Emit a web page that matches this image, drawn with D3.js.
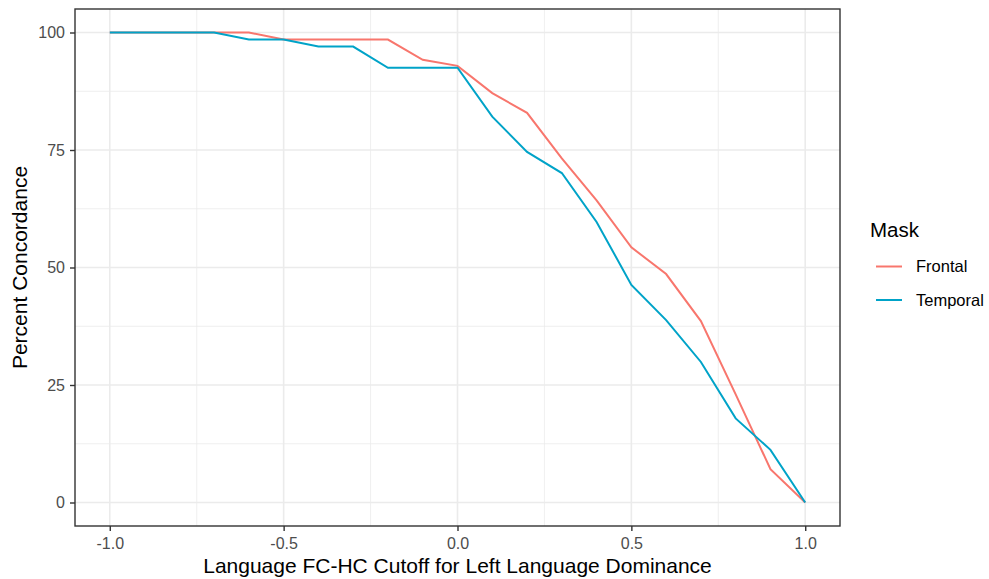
<!DOCTYPE html>
<html>
<head>
<meta charset="utf-8">
<script src="https://cdn.jsdelivr.net/npm/d3@7"></script>
<style>
  body { margin: 0; background: #fff; }
  text { font-family: "Liberation Sans", Arial, sans-serif; }
</style>
</head>
<body>
<div class="chart"></div>
<script>
// cutoff values on the x axis
const cutoffs = [-1.0, -0.9, -0.8, -0.7, -0.6, -0.5, -0.4, -0.3, -0.2, -0.1, 0.0,
  0.1, 0.2, 0.3, 0.4, 0.5, 0.6, 0.7, 0.8, 0.9, 1.0]

// percent concordance per mask
const frontal = [100, 100, 100, 100, 100, 98.5, 98.5, 98.5, 98.5, 94.2, 92.9,
  87.1, 82.9, 73.2, 64.3, 54.3, 48.6, 38.6, 23.0, 7.1, 0]
const temporal = [100, 100, 100, 100, 98.5, 98.5, 97.0, 97.0, 92.5, 92.5, 92.5,
  82.1, 74.6, 70.1, 59.7, 46.3, 38.8, 29.9, 17.9, 11.2, 0]

const seriesNames = ['Frontal', 'Temporal']
const seriesColors = ['#F8766D', '#00A3C8']
const xTicks = [-1.0, -0.5, 0.0, 0.5, 1.0]
const xMinor = [-0.75, -0.25, 0.25, 0.75]
const yTicks = [0, 25, 50, 75, 100]
const yMinor = [12.5, 37.5, 62.5, 87.5]

const width = 989, height = 579
const margin = { top: 9, right: 149, bottom: 53, left: 75 }
const pw = width - margin.left - margin.right
const ph = height - margin.top - margin.bottom

const svg = d3.select('.chart')
  .append('svg')
  .attr('width', width)
  .attr('height', height)

const g = svg.append('g')
  .attr('transform', `translate(${margin.left}, ${margin.top})`)

// ggplot-style 5% expansion
const x = d3.scaleLinear().domain([-1.1, 1.1]).range([0, pw])
const y = d3.scaleLinear().domain([-5, 105]).range([ph, 0])

// grid
g.selectAll('.xminor').data(xMinor).enter().append('line')
  .attr('x1', d => x(d)).attr('x2', d => x(d))
  .attr('y1', 0).attr('y2', ph)
  .attr('stroke', '#EBEBEB').attr('stroke-width', 0.8)
g.selectAll('.yminor').data(yMinor).enter().append('line')
  .attr('x1', 0).attr('x2', pw)
  .attr('y1', d => y(d)).attr('y2', d => y(d))
  .attr('stroke', '#EBEBEB').attr('stroke-width', 0.8)
g.selectAll('.xmajor').data(xTicks).enter().append('line')
  .attr('x1', d => x(d)).attr('x2', d => x(d))
  .attr('y1', 0).attr('y2', ph)
  .attr('stroke', '#EBEBEB').attr('stroke-width', 1.6)
g.selectAll('.ymajor').data(yTicks).enter().append('line')
  .attr('x1', 0).attr('x2', pw)
  .attr('y1', d => y(d)).attr('y2', d => y(d))
  .attr('stroke', '#EBEBEB').attr('stroke-width', 1.6)

// lines
const line = d3.line()
  .x((d, i) => x(cutoffs[i]))
  .y(d => y(d))

const seriesData = [frontal, temporal]
seriesData.forEach((vals, k) => {
  g.append('path')
    .datum(vals)
    .attr('d', line)
    .attr('fill', 'none')
    .attr('stroke', seriesColors[k])
    .attr('stroke-width', 2)
})

// panel border
g.append('rect')
  .attr('width', pw).attr('height', ph)
  .attr('fill', 'none')
  .attr('stroke', '#333333').attr('stroke-width', 1.4)

// axes (plain hyphen for negatives, like R)
const xAxis = d3.axisBottom(x)
  .tickValues(xTicks)
  .tickSize(5)
  .tickPadding(4)
  .tickFormat(d => d.toFixed(1))
const yAxis = d3.axisLeft(y)
  .tickValues(yTicks)
  .tickSize(5)
  .tickPadding(5)

const xAxisGroup = g.append('g')
  .attr('transform', `translate(0, ${ph})`)
  .call(xAxis)
const yAxisGroup = g.append('g').call(yAxis)

;[xAxisGroup, yAxisGroup].forEach(ax => {
  ax.select('.domain').remove()
  ax.selectAll('line').attr('stroke', '#333333').attr('stroke-width', 1.4)
  ax.selectAll('text')
    .attr('fill', '#4D4D4D')
    .style('font-size', '16px')
    .style('font-family', '"Liberation Sans", Arial, sans-serif')
})
xAxisGroup.selectAll('text').attr('dy', '0.9em')

// axis titles
svg.append('text')
  .attr('x', margin.left + pw / 2)
  .attr('y', 573)
  .attr('text-anchor', 'middle')
  .attr('fill', '#000')
  .style('font-size', '21px')
  .text('Language FC-HC Cutoff for Left Language Dominance')

svg.append('text')
  .attr('transform', `translate(27, ${margin.top + ph / 2}) rotate(-90)`)
  .attr('text-anchor', 'middle')
  .attr('fill', '#000')
  .style('font-size', '21px')
  .text('Percent Concordance')

// legend
const legend = svg.append('g').attr('transform', 'translate(870, 0)')
legend.append('text')
  .attr('x', 0).attr('y', 237)
  .attr('fill', '#000')
  .style('font-size', '20.5px')
  .text('Mask')

const items = legend.selectAll('.item')
  .data(seriesNames)
  .enter().append('g')
  .attr('transform', (d, i) => `translate(0, ${266.5 + i * 33.5})`)

items.append('line')
  .attr('x1', 6).attr('x2', 32)
  .attr('y1', 0).attr('y2', 0)
  .attr('stroke', (d, i) => seriesColors[i])
  .attr('stroke-width', 2)

items.append('text')
  .attr('x', 46).attr('y', 0)
  .attr('dy', '0.35em')
  .attr('fill', '#000')
  .style('font-size', '16.5px')
  .text(d => d)
</script>
</body>
</html>
